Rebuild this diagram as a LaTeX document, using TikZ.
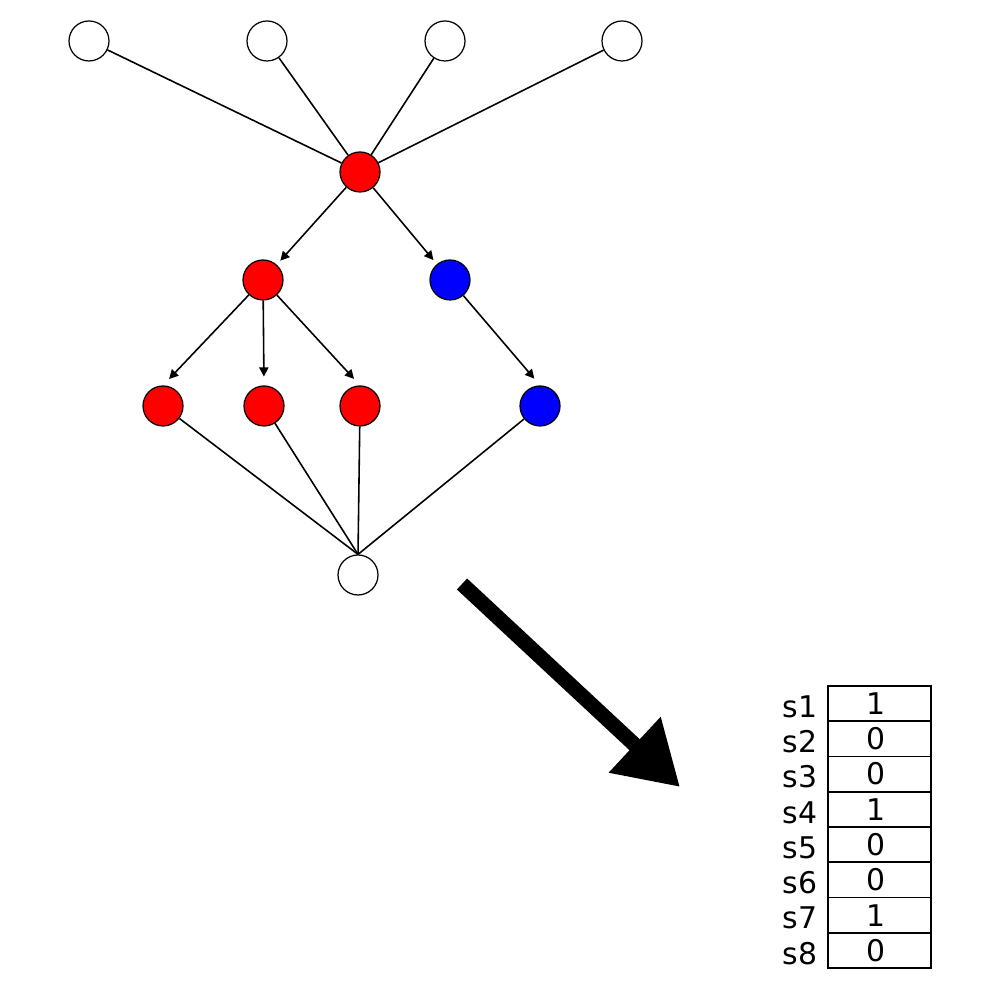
\documentclass[tikz,border=0pt]{standalone}
\usepackage{fontspec}
\setmainfont{DejaVu Sans}
\usetikzlibrary{arrows.meta}
\tikzstyle{empty} = [circle, draw=black, fill=white, minimum size=0.4cm, inner sep=0pt, line width=0.35pt]
\tikzstyle{hit} = [circle, draw=black, fill=red, minimum size=0.4cm, inner sep=0pt, line width=0.35pt]
\tikzstyle{other} = [circle, draw=black, fill=blue, minimum size=0.4cm, inner sep=0pt, line width=0.35pt]
\tikzstyle{link} = [line width=0.45pt]
\tikzstyle{arrow} = [line width=0.45pt, -{Triangle[length=2.6pt, width=2.6pt]}, shorten >=1.5pt]
\tikzstyle{cell} = [rectangle, draw=black, line width=0.5pt, minimum width=1.03cm, minimum height=0.3525cm, inner sep=0pt]

\begin{document}
\begin{tikzpicture}
    \useasboundingbox (0,0) rectangle (10,10);
    % inputs
    \node (in1) [empty] at (0.89,9.59) {};
    \node (in2) [empty] at (2.67,9.59) {};
    \node (in3) [empty] at (4.45,9.59) {};
    \node (in4) [empty] at (6.22,9.59) {};
    % tree
    \node (root) [hit] at (3.60,8.28) {};
    \node (redA) [hit] at (2.63,7.20) {};
    \node (blueA) [other] at (4.50,7.20) {};
    \node (redB) [hit] at (1.63,5.94) {};
    \node (redC) [hit] at (2.64,5.94) {};
    \node (redD) [hit] at (3.60,5.94) {};
    \node (blueB) [other] at (5.40,5.94) {};
    \node (sink) [empty] at (3.58,4.25) {};

    \foreach \n in {in1,in2,in3,in4}
        \draw [link] (\n) -- (root);

    \draw [arrow] (root) -- (redA);
    \draw [arrow] (root) -- (blueA);
    \draw [arrow, shorten >=2.5pt] (redA) -- (redB.north);
    \draw [arrow, shorten >=2.5pt] (redA) -- (redC.north);
    \draw [arrow, shorten >=2.5pt] (redA) -- (redD.north);
    \draw [arrow, shorten >=2.5pt] (blueA) -- (blueB.north);

    \foreach \n in {redB,redC,redD,blueB}
        \draw [link] (\n) -- (sink.north);

    % big arrow
    \coordinate (from) at (4.62,4.16);
    \coordinate (to) at (6.80,2.13);
    \draw [line width=0.15cm, -{Triangle[length=0.62cm, width=0.72cm]}] (from) -- (to);

    % bit vector
    \foreach \b [count=\i] in {1,0,0,1,0,0,1,0} {
        \node (bit\i) [cell] at (8.795, {(314-(\i-0.5)*35.25)/100}) {};
        \node (val\i) [inner sep=0pt, font=\fontsize{8.5}{10}\selectfont] at ([xshift=-0.04cm]bit\i.center) {\b};
        \node (lab\i) [anchor=east, inner sep=0pt, font=\fontsize{8.5}{10}\selectfont] at ([xshift=-0.09cm, yshift=-0.03cm]bit\i.west) {s\i};
    }
\end{tikzpicture}
\end{document}
